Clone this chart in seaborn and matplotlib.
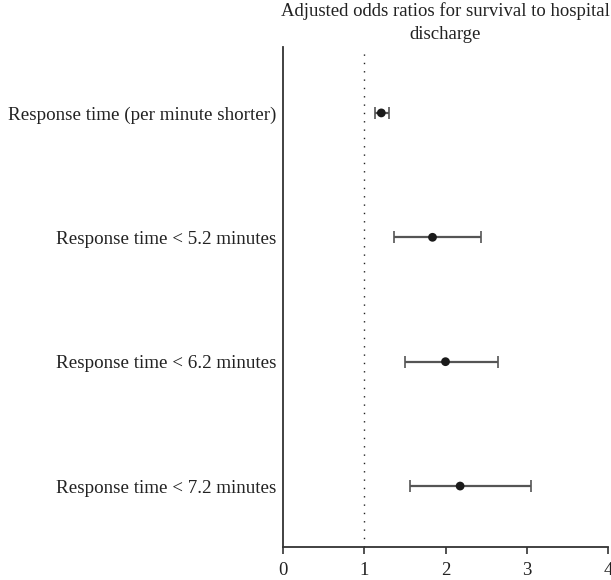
import pandas as pd
import matplotlib
matplotlib.use("Agg")
import matplotlib.pyplot as plt
import seaborn as sns

# Forest plot values
labels = [
    "Response time (per minute shorter)",
    "Response time < 5.2 minutes",
    "Response time < 6.2 minutes",
    "Response time < 7.2 minutes",
]
odds = [1.21, 1.84, 2.00, 2.18]
ci_low = [1.13, 1.37, 1.50, 1.56]
ci_high = [1.31, 2.44, 2.65, 3.05]
xticks = [0, 1, 2, 3, 4]

sns.set_style("white")
plt.rcParams["font.family"] = ["Liberation Serif", "DejaVu Serif"]

df = pd.DataFrame({"label": labels, "odds": odds, "lo": ci_low, "hi": ci_high})

fig, ax = plt.subplots(figsize=(6.11, 5.80), dpi=100)
fig.subplots_adjust(left=283/611, right=608/611, top=1-47/580, bottom=1-547/580)

ypos = list(range(len(df)))
ax.errorbar(df["odds"], ypos,
            xerr=[df["odds"] - df["lo"], df["hi"] - df["odds"]],
            fmt="none", ecolor="#555555", elinewidth=1.6, capsize=4, capthick=1.2)
sns.scatterplot(x=df["odds"], y=ypos, ax=ax, color="#1a1a1a", s=40,
                edgecolor="none", zorder=3)

ax.axvline(1, color="#222222", linestyle=(0, (1, 5)), linewidth=1.0)

ax.set_xlim(0, 4)
ax.set_ylim(len(df) - 1 + 0.49, -0.53)
ax.set_xticks(xticks)
ax.set_xticklabels([str(t) for t in xticks], fontsize=13.5)
ax.set_yticks(ypos)
ax.set_yticklabels(df["label"], fontsize=13.7, color="#222222")
ax.tick_params(axis="y", left=False, length=0, pad=5)
ax.tick_params(axis="x", bottom=True, direction="out", length=5, width=1.2,
               color="#333333", pad=6, labelcolor="#222222")

sns.despine(ax=ax)
for side in ["left", "bottom"]:
    ax.spines[side].set_color("#333333")
    ax.spines[side].set_linewidth(1.3)

ax.set_title("Adjusted odds ratios for survival to hospital\ndischarge",
             fontsize=13.5, color="#222222", pad=6, linespacing=1.45)
ax.set_xlabel("")
ax.set_ylabel("")

plt.savefig("out.png", dpi=100)
